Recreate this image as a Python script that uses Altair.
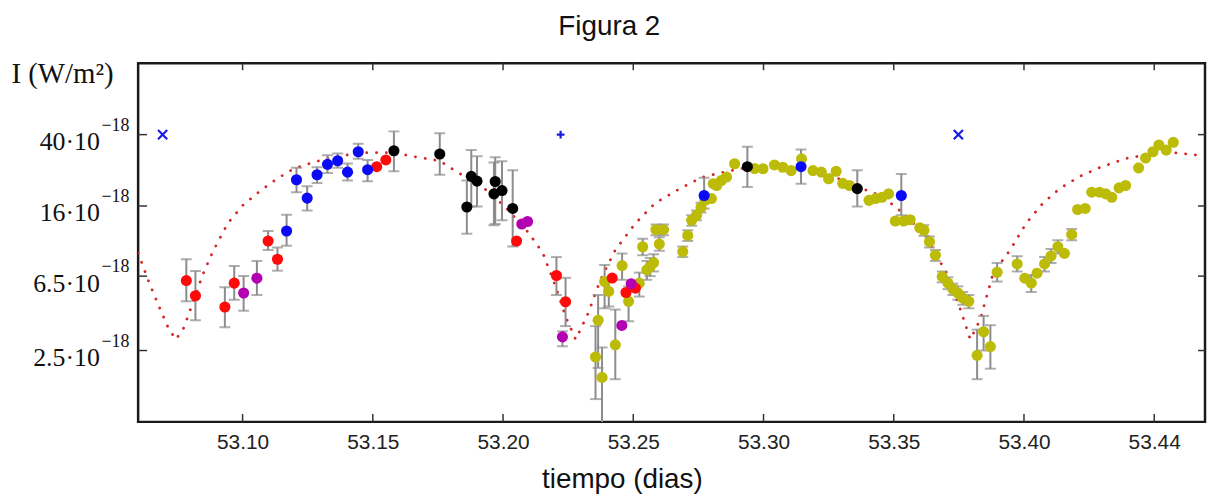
import altair as alt
import pandas as pd

# ---------------- data (intensities in units of 1e-18 W/m^2) ----------------
curve_x = [53.0599, 53.0637, 53.0676, 53.0714, 53.0744, 53.0775, 53.0809, 53.0847, 53.0885, 53.0943,
           53.1000, 53.1069, 53.1134, 53.1198, 53.1267, 53.1324, 53.1450, 53.1580, 53.1679, 53.1756,
           53.1821, 53.1924, 53.2011, 53.2099, 53.2153, 53.2202, 53.2240, 53.2279, 53.2328, 53.2374,
           53.2431, 53.2508, 53.2584, 53.2687, 53.2763, 53.2824, 53.2916, 53.3042, 53.3168, 53.3260,
           53.3347, 53.3450, 53.3500, 53.3550, 53.3626, 53.3702, 53.3756, 53.3794, 53.3832, 53.3882,
           53.3947, 53.4008, 53.4073, 53.4137, 53.4214, 53.4290, 53.4389, 53.4492, 53.4580, 53.4695]
curve_y = [8.74, 6.20, 4.51, 3.36, 2.88, 3.36, 4.62, 6.61, 8.86, 12.8,
           16.1, 19.5, 22.8, 25.9, 27.9, 29.4, 31.7, 31.7, 29.8, 28.6,
           24.9, 20.3, 15.7, 11.3, 8.74, 5.67, 3.87, 2.88, 4.07, 6.20,
           9.09, 12.8, 16.6, 20.3, 23.1, 24.3, 25.9, 26.2, 25.9, 23.7,
           20.8, 18.3, 16.1, 14.0, 10.7, 6.78, 4.23, 2.88, 3.72, 6.78,
           9.09, 12.8, 16.6, 20.0, 23.4, 26.2, 29.4, 31.3, 31.7, 30.5]

olive_x = [53.2355, 53.2365, 53.2380, 53.2390, 53.2406, 53.2431, 53.2457, 53.2482, 53.2523, 53.2536,
           53.2552, 53.2565, 53.2578, 53.2587, 53.2600, 53.2616, 53.2690, 53.2709, 53.2724, 53.2743,
           53.2760, 53.2775, 53.2800, 53.2807, 53.2820, 53.2838, 53.2858, 53.2889, 53.2966, 53.2998,
           53.3042, 53.3074, 53.3106, 53.3146, 53.3190, 53.3222, 53.3250, 53.3279, 53.3304, 53.3330,
           53.3405, 53.3430, 53.3455, 53.3480, 53.3506, 53.3538, 53.3563, 53.3600, 53.3616, 53.3637,
           53.3660, 53.3686, 53.3708, 53.3727, 53.3746, 53.3765, 53.3788, 53.3820, 53.3845, 53.3871,
           53.3897, 53.3974, 53.4003, 53.4028, 53.4050, 53.4079, 53.4104, 53.4130, 53.4155, 53.4183,
           53.4206, 53.4235, 53.4260, 53.4290, 53.4314, 53.4337, 53.4365, 53.4390, 53.4440, 53.4467,
           53.4495, 53.4518, 53.4546, 53.4573]
olive_y = [2.30, 3.69, 1.77, 6.06, 5.34, 2.69, 7.44, 4.70, 5.94, 9.48,
           7.04, 7.35, 7.73, 11.8, 9.81, 11.8, 8.9, 10.96, 13.3, 14.2,
           15.7, 17.2, 17.6, 21.3, 20.8, 22.2, 23.2, 27.5, 25.9, 25.8,
           27.1, 26.3, 25.2, 29.3, 25.2, 24.7, 22.7, 25.0, 21.4, 20.8,
           17.2, 17.6, 17.9, 18.7, 13.2, 13.2, 13.4, 12.1, 11.7, 10.1,
           8.5, 6.46, 5.94, 5.51, 5.23, 4.91, 4.70, 2.35, 3.18, 2.63,
           6.83, 7.6, 6.33, 5.94, 6.75, 7.6, 8.42, 9.48, 8.71, 11.1,
           15.3, 15.5, 19.1, 19.1, 18.7, 17.9, 20.2, 20.8, 26.1, 29.6,
           32.1, 35.0, 32.8, 36.2]

red_x = [53.0784, 53.0819, 53.0932, 53.0968, 53.1098, 53.1134, 53.1515, 53.1550, 53.2052, 53.2205,
         53.2240, 53.2419, 53.2472, 53.2508]
red_y = [6.14, 5.05, 4.37, 5.94, 10.2, 8.07, 26.5, 28.9, 10.2, 6.55,
         4.68, 6.34, 5.27, 5.57]

magenta_x = [53.1004, 53.1055, 53.2072, 53.2094, 53.2228, 53.2456, 53.2492]
magenta_y = [5.23, 6.33, 12.7, 13.1, 2.98, 3.45, 5.89]

blue_x = [53.1169, 53.1207, 53.1248, 53.1286, 53.1326, 53.1365, 53.1403, 53.1444, 53.1480, 53.2772,
          53.3144, 53.3529]
blue_y = [11.6, 22.4, 17.7, 23.9, 27.3, 28.6, 24.7, 32.1, 25.5, 18.3,
          26.5, 18.3]

black_x = [53.1581, 53.1757, 53.1861, 53.1878, 53.1900, 53.1965, 53.1970, 53.1996, 53.2037, 53.2938,
           53.3360]
black_y = [32.5, 31.2, 15.8, 23.4, 22.0, 18.7, 21.9, 19.5, 15.5, 26.5,
           20.0]

# error bars (x, lower, upper)
err_x = [53.0784, 53.0819, 53.0932, 53.0968, 53.1098, 53.1134, 53.2205, 53.2240,
         53.1004, 53.1055, 53.2228,
         53.1169, 53.1207, 53.1248, 53.1286, 53.1326, 53.1365, 53.1403, 53.1444, 53.1480, 53.2772,
         53.3144, 53.3529,
         53.1581, 53.1757, 53.1861, 53.1878, 53.1900, 53.1965, 53.1970, 53.1996, 53.2037, 53.2938,
         53.3360,
         53.2355, 53.2365, 53.2380, 53.2390, 53.2406, 53.2431, 53.2457, 53.2482, 53.2523, 53.2536,
         53.2552, 53.2565, 53.2578, 53.2587, 53.2600, 53.2616, 53.2690, 53.2709, 53.2724, 53.2743,
         53.2760, 53.3616, 53.3637, 53.3660, 53.3686, 53.3708, 53.3727, 53.3746, 53.3765, 53.3788,
         53.3820, 53.3845, 53.3871, 53.3897, 53.3974, 53.4028, 53.4079, 53.4104, 53.4130, 53.4183]
err_lo = [4.70, 3.69, 3.37, 4.8, 9.1, 6.97, 5.1, 3.42,
          4.17, 5.1, 2.64,
          9.6, 19.1, 15.1, 21.5, 24.4, 26.1, 22.2, 29.3, 22.0, 15.5,
          21.3, 14.2,
          25.0, 23.9, 11.2, 15.9, 15.9, 12.5, 12.7, 13.3, 9.5, 20.4,
          15.9,
          1.34, 2.0, 0.8, 4.3, 4.4, 1.73, 6.2, 3.64, 5.0, 8.5,
          6.2, 6.5, 6.9, 11.0, 9.0, 11.0, 8.3, 10.2, 12.4, 13.3,
          14.7, 10.9, 9.4, 7.9, 6.0, 5.5, 5.1, 4.8, 4.5, 4.3,
          1.73, 2.5, 1.98, 6.06, 6.9, 5.3, 6.9, 7.7, 8.7, 10.3]
err_hi = [8.08, 6.95, 5.64, 7.4, 11.6, 9.4, 8.3, 6.36,
          6.5, 7.9, 3.2,
          14.3, 26.1, 20.6, 26.3, 30.7, 31.4, 27.6, 35.6, 28.9, 23.0,
          33.0, 24.1,
          41.7, 40.7, 22.2, 32.8, 30.3, 28.0, 29.9, 28.4, 25.3, 34.2,
          25.3,
          3.42, 5.1, 2.6, 7.5, 6.3, 4.23, 8.7, 5.7, 6.8, 10.5,
          7.9, 8.2, 8.6, 12.6, 10.7, 12.6, 9.5, 11.7, 14.2, 15.1,
          16.7, 12.5, 10.8, 9.1, 6.9, 6.4, 5.9, 5.7, 5.3, 5.1,
          3.27, 3.9, 3.46, 7.7, 8.4, 6.6, 8.3, 9.2, 10.3, 11.9]

# blue reference markers
mark_x = [53.0693, 53.2221, 53.3748]
mark_y = [40, 40, 40]
mark_kind = ["x", "+", "x"]

series_names = ["olive", "red", "magenta", "blue", "black"]
series_colors = ["#bcbc08", "#ff0a0a", "#b300b3", "#0a0af5", "#000000"]

x_tick_values = [53.10, 53.15, 53.20, 53.25, 53.30, 53.35, 53.40, 53.45]
x_tick_labels = ["53.10", "53.15", "53.20", "53.25", "53.30", "53.35", "53.40", "53.44"]
y_tick_values = [2.5, 6.5, 16, 40]
y_tick_labels = ["2.5·10", "6.5·10", "16·10", "40·10"]
y_tick_exponent = "−18"

# ---------------- tables ----------------
curve_df = pd.DataFrame({"x": curve_x, "y": curve_y})
pts = []
for name, xs, ys in [("olive", olive_x, olive_y), ("red", red_x, red_y), ("magenta", magenta_x, magenta_y),
                     ("blue", blue_x, blue_y), ("black", black_x, black_y)]:
    for a, b in zip(xs, ys):
        pts.append({"x": a, "y": b, "s": name})
pts_df = pd.DataFrame(pts)
pts_df["order"] = range(len(pts_df))
err_df = pd.DataFrame({"x": err_x, "y": err_lo, "hi": err_hi})
mark_df = pd.DataFrame({"x": mark_x, "y": mark_y, "k": mark_kind})
xt_df = pd.DataFrame({"x": x_tick_values})
yt_df = pd.DataFrame({"y": y_tick_values, "t": [y_tick_exponent] * len(y_tick_values)})


def ternary(values, labels):
    expr = "''"
    for v, l in zip(reversed(values), reversed(labels)):
        expr = f"abs(datum.value - {v}) < 1e-6 ? '{l}' : ({expr})"
    return expr


W, H = 1074, 361
xscale = alt.Scale(domain=[53.0599, 53.4695], nice=False, zero=False)
yscale = alt.Scale(type="log", domain=[1, 100], nice=False, zero=False)
xaxis = alt.Axis(values=x_tick_values, labelExpr=ternary(x_tick_values, x_tick_labels),
                 grid=False, ticks=False, domain=False,
                 labelFont="Liberation Sans, Arial", labelFontSize=21,
                 labelColor="#222", labelPadding=10,
                 titleFont="Liberation Sans, Arial", titleFontSize=28, titleFontWeight="normal",
                 titleColor="#111", titleX=487, titleY=66, titleBaseline="alphabetic", titleAlign="center")
yaxis = alt.Axis(values=y_tick_values, labelExpr=ternary(y_tick_values, y_tick_labels),
                 grid=False, ticks=False, domain=False,
                 labelFont="Liberation Serif, Times New Roman, serif", labelFontSize=26,
                 labelColor="#111", labelPadding=39, labelBaseline="alphabetic", labelOffset=15,
                 titleFont="Liberation Serif, Times New Roman, serif", titleFontSize=29,
                 titleFontWeight="normal", titleColor="#111", titleAngle=0, titleX=-128, titleY=10,
                 titleAlign="left", titleBaseline="middle")


def X(field="x"):
    return alt.X(f"{field}:Q", scale=xscale, axis=xaxis, title="tiempo (dias)")


def Y(field="y"):
    return alt.Y(f"{field}:Q", scale=yscale, axis=yaxis, title="I (W/m²)")


curve = alt.Chart(curve_df).mark_line(
    color="#d42424", strokeWidth=2.8, strokeDash=[0.1, 9.8], strokeCap="round", clip=True
).encode(x=X(), y=Y())

err_rule = alt.Chart(err_df).mark_rule(color="#8c8c8c", strokeWidth=2, clip=True).encode(
    x=X(), y=Y(), y2="hi:Q")
err_lo_cap = alt.Chart(err_df).mark_tick(color="#8c8c8c", thickness=2, size=11, orient="horizontal",
                                         clip=True).encode(x=X(), y=Y())
err_hi_cap = alt.Chart(err_df).mark_tick(color="#8c8c8c", thickness=2, size=11, orient="horizontal",
                                         clip=True).encode(x=X(), y=Y("hi"))

points = alt.Chart(pts_df).mark_circle(size=125, opacity=1).encode(
    x=X(), y=Y(),
    color=alt.Color("s:N", scale=alt.Scale(domain=series_names, range=series_colors), legend=None),
    order=alt.Order("order:Q"))

markers = alt.Chart(mark_df).mark_point(filled=False, strokeWidth=2.2, color="#1a1ae6", opacity=1).encode(
    x=X(), y=Y(),
    shape=alt.Shape("k:N", scale=alt.Scale(domain=["x", "+"],
                                          range=["M-1,-1L1,1M-1,1L1,-1", "M-1,0L1,0M0,-1L0,1"]),
                    legend=None),
    size=alt.Size("k:N", scale=alt.Scale(domain=["x", "+"], range=[85, 60]), legend=None))

tick_color = "#333333"
xt_bottom = alt.Chart(xt_df).mark_rule(color=tick_color, strokeWidth=1.5).encode(
    x=X(), y=alt.value(H), y2=alt.value(H - 8))
xt_top = alt.Chart(xt_df).mark_rule(color=tick_color, strokeWidth=1.5).encode(
    x=X(), y=alt.value(0), y2=alt.value(7))
yt_left = alt.Chart(yt_df).mark_rule(color=tick_color, strokeWidth=1.5).encode(
    y=Y(), x=alt.value(0), x2=alt.value(9))
yt_right = alt.Chart(yt_df).mark_rule(color=tick_color, strokeWidth=1.5).encode(
    y=Y(), x=alt.value(W), x2=alt.value(W - 7))
y_exp = alt.Chart(yt_df).mark_text(
    align="left", baseline="alphabetic", dy=-4, font="Liberation Serif, Times New Roman, serif",
    fontSize=18, color="#111").encode(y=Y(), x=alt.value(-37), text="t:N")

chart = alt.layer(
    curve, err_rule, err_lo_cap, err_hi_cap, points, markers,
    xt_bottom, xt_top, yt_left, yt_right, y_exp
).properties(
    width=W, height=H,
    autosize=alt.AutoSizeParams(type="none"),
    padding={"left": 131, "top": 54, "right": 2, "bottom": 76},
    title=alt.TitleParams("Figura 2", font="Liberation Sans, Arial", fontSize=28, fontWeight="normal",
                          color="#111", anchor="start", frame="group", dx=423, offset=28, dy=32,
                          baseline="alphabetic"),
).configure(background="white").configure_view(stroke="#1a1a1a", strokeWidth=2.5)

chart.save("out.html", embed_options={"renderer": "svg", "actions": False})
